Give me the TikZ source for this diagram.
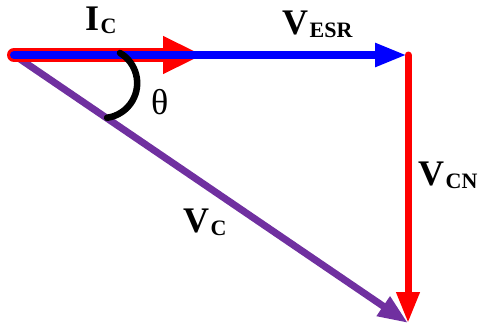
\documentclass[tikz,border=0pt]{standalone}
\usepackage{fontspec}
\setmainfont{Liberation Serif}
\usepackage{tikz}
\usetikzlibrary{arrows.meta, positioning}
\definecolor{fasorrojo}{HTML}{FF0000}
\definecolor{fasorazul}{HTML}{0000FF}
\definecolor{fasormorado}{HTML}{7030A0}
\newcommand{\fasor}[2]{\textbf{#1}\hspace{1.5pt}\raisebox{-3pt}{\fontsize{22}{22}\selectfont\textbf{#2}}}
\tikzset{
  etiqueta/.style={inner sep=0pt, anchor=base west, font=\fontsize{36}{40}\selectfont}
}

\begin{document}
\begin{tikzpicture}[x=1pt, y=-1pt, >=Triangle]
        \useasboundingbox (0,0) rectangle (486,333);

        % Puntos de los fasores
        \coordinate (O) at (14,55);
        \coordinate (P_ic) at (203,55);
        \coordinate (P_esr) at (407,55);
        \coordinate (P_top) at (408,55);
        \coordinate (P_cn) at (408,323);

        % Fasor V_C (morado)
        \draw[fasormorado, line width=7pt, -{Triangle[length=30pt, width=22pt]}] (O) -- (P_cn);

        % Fasor I_C (rojo, grueso)
        \draw[fasorrojo, line width=14pt, line cap=round, -{Triangle[length=40pt, width=35pt]}] (O) -- (P_ic);

        % Fasor V_ESR (azul)
        \draw[fasorazul, line width=8pt, line cap=round, -{Triangle[length=32pt, width=22pt]}] (O) -- (P_esr);

        % Fasor V_CN (rojo)
        \draw[fasorrojo, line width=7pt, line cap=round, -{Triangle[length=31pt, width=22pt]}] (P_top) -- (P_cn);

        % Angulo theta
        \draw[black, line width=6.5pt, line cap=round] (120,53) arc[start angle=-59.4, end angle=82, radius=35];

        % Etiquetas
        \node[etiqueta] (lbl_ic) at (85,30) {\fasor{I}{C}};
        \node[etiqueta] (lbl_esr) at (282,34) {\fasor{V}{ESR}};
        \node[etiqueta] (lbl_cn) at (418,185) {\fasor{V}{CN}};
        \node[etiqueta] (lbl_vc) at (183,232) {\fasor{V}{C}};
        \node[etiqueta] (lbl_theta) at (151,114) {θ};

    \end{tikzpicture}
\end{document}
